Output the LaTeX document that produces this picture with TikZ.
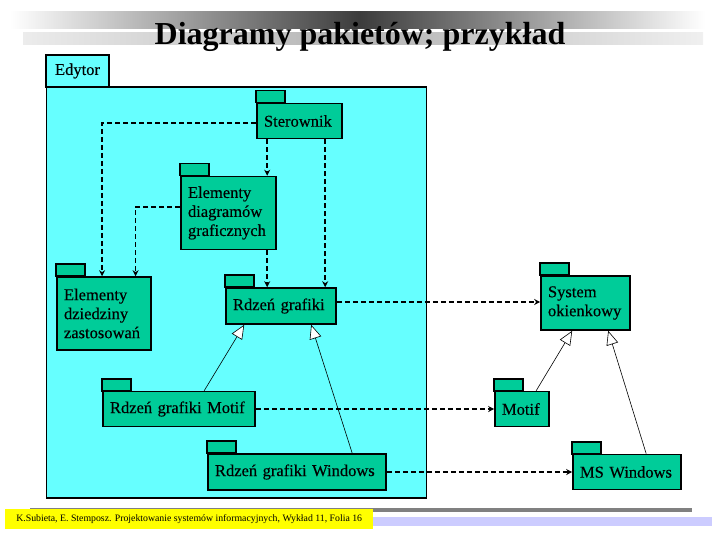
\documentclass[tikz,border=0pt]{standalone}
\usepackage{fontspec}
\setmainfont{Liberation Serif}
\usetikzlibrary{arrows.meta,calc,positioning}

\begin{document}
\begin{tikzpicture}[x=1pt, y=-1pt, line join=miter]

	% Colors (slide look)
	\definecolor{cyanA}{RGB}{102,255,255}
	\definecolor{greenA}{RGB}{0,204,153}
	\definecolor{yellowA}{RGB}{255,255,0}
	\definecolor{lilacA}{RGB}{204,204,255}
	\definecolor{grayA}{RGB}{128,128,128}
	\definecolor{grayD}{RGB}{60,60,60}

	\tikzset{
		lbl/.style={font=\fontsize{16.5}{19}\selectfont\addfontfeatures{FakeBold=0.3}},
		pkg/.style={draw=black, line width=1.6pt, fill=greenA, inner xsep=7pt, inner ysep=3pt, align=left, lbl},
		tab/.style={draw=black, line width=1.6pt, fill=greenA},
		dep/.style={-{Stealth[length=6pt,width=6pt]}, line width=1.8pt, dash pattern=on 5pt off 3pt},
		gen/.style={-{Triangle[fill=white,length=14pt,width=12pt]}, line width=0.6pt},
	}

	\useasboundingbox (0,0) rectangle (720,540);

	% --- Title with shaded bars
	\shade[left color=white, right color=grayD] (10,12) rectangle (360,29);
	\shade[left color=grayD, right color=white] (360,12) rectangle (705,29);
	\shade[left color=gray!15, right color=gray!60] (23,33) rectangle (360,45);
	\shade[left color=gray!60, right color=gray!12] (360,33) rectangle (703,45);
	\node[font=\fontsize{32}{36}\selectfont\bfseries, anchor=base] (title) at (360,45) {Diagramy pakietów; przykład};

	% --- Package Edytor
	\node[draw, line width=1.6pt, fill=cyanA, minimum width=380pt, minimum height=411pt] (edytorbody) at (236.5,292.5) {};
	\node[draw, line width=1.6pt, fill=cyanA, minimum width=63pt, minimum height=32pt, lbl] (edytor) at (77.5,71) {Edytor};

	% --- Packages inside Edytor
	\node[pkg, minimum height=35pt, text width=71pt] (ster) at (299.5,121) {Sterownik};
	\node[pkg, minimum height=73pt, text width=81pt] (eldiag) at (228.5,213) {Elementy\\diagramów\\graficznych};
	\node[pkg, minimum height=73pt, text width=80pt] (eldziedz) at (104,313.5) {Elementy\\dziedziny\\zastosowań};
	\node[pkg, minimum height=36pt, text width=96pt] (rdzen) at (281,306) {Rdzeń grafiki};
	\node[pkg, minimum height=35pt, text width=138pt] (rmotif) at (179,409) {Rdzeń grafiki Motif};
	\node[pkg, minimum height=36pt, text width=164pt] (rwin) at (297,472) {Rdzeń grafiki Windows};

	% --- Packages outside
	\node[pkg, minimum height=54pt, text width=75pt] (system) at (585.5,303) {System\\okienkowy};
	\node[pkg, minimum height=35pt, text width=40pt] (motif) at (522,409) {Motif};
	\node[pkg, minimum height=35pt, text width=94pt] (mswin) at (627,472) {MS Windows};

	% tabs
	\foreach \p in {ster,eldiag,eldziedz,rdzen,rmotif,rwin,system,motif,mswin}
		\draw[tab] (\p.north west) rectangle ++(29,-12);

	% --- Dependencies
	\coordinate (d1) at ($(eldziedz.north west)!0.48!(eldziedz.north east)$);
	\coordinate (d2) at ($(eldziedz.north west)!0.83!(eldziedz.north east)$);
	\coordinate (s1) at ($(ster.south west)+(11,0)$);
	\coordinate (s2) at ($(ster.south west)+(69,0)$);
	\coordinate (e1) at ($(eldiag.south west)+(87,0)$);
	\draw[dep] ([yshift=-2pt]ster.west) -| (d1);
	\draw[dep] ([yshift=6pt]eldiag.west) -| (d2);
	\draw[dep] (s1) -- (s1 |- eldiag.north);
	\draw[dep] (s2) -- (s2 |- rdzen.north);
	\draw[dep] (e1) -- (e1 |- rdzen.north);
	\draw[dep] ([yshift=4pt]rdzen.east) -- ([yshift=4pt]rdzen.east -| system.west);
	\draw[dep] (rmotif.east) -- (rmotif.east -| motif.west);
	\draw[dep] (rwin.east) -- (rwin.east -| mswin.west);

	% --- Generalizations
	\draw[gen] ($(rmotif.north west)+(102,0)$) -- ($(rdzen.south west)+(19,0)$);
	\draw[gen] ($(rwin.north west)+(145,0)$) -- ($(rdzen.south west)+(86,0)$);
	\draw[gen] ($(motif.north west)+(42,0)$) -- ($(system.south west)+(32,0)$);
	\draw[gen] ($(mswin.north west)+(74,0)$) -- ($(system.south west)+(68,0)$);

	% --- Footer
	\fill[grayA] (30,508) rectangle (692,512);
	\fill[lilacA] (373,517) rectangle (712,526);
	\node[fill=yellowA, anchor=north west, minimum width=368pt, minimum height=20pt, inner xsep=6pt, font=\fontsize{9.8}{11}\selectfont] (footer) at (5,508.5) {K.Subieta, E. Stemposz. Projektowanie systemów informacyjnych, Wykład 11, Folia 16};

\end{tikzpicture}
\end{document}
